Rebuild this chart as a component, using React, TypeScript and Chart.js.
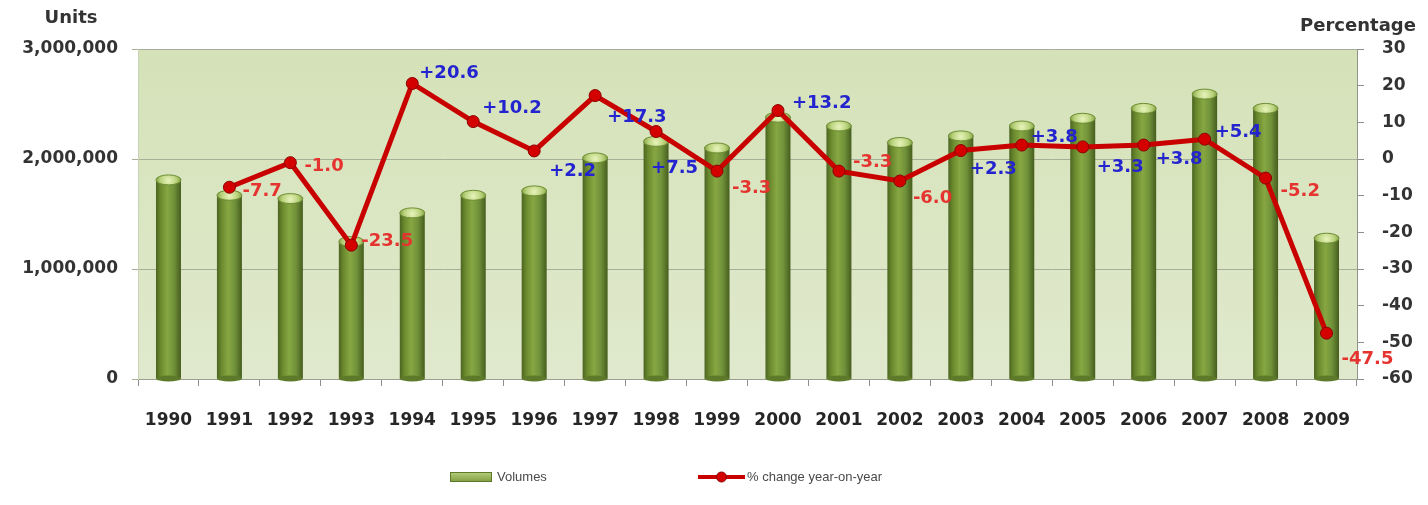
import React, { useEffect, useRef } from 'react';
import { Chart, registerables } from 'chart.js';

Chart.register(...registerables);

// ---------- data ----------
const YEARS = ['1990', '1991', '1992', '1993', '1994', '1995', '1996', '1997', '1998', '1999',
  '2000', '2001', '2002', '2003', '2004', '2005', '2006', '2007', '2008', '2009'];
const VOLUMES = [1810000, 1670000, 1640000, 1250000, 1510000, 1670000, 1710000, 2010000, 2160000, 2100000,
  2380000, 2300000, 2150000, 2210000, 2300000, 2370000, 2460000, 2590000, 2460000, 1280000];
const PCT_CHANGE: (number | null)[] = [null, -7.7, -1.0, -23.5, 20.6, 10.2, 2.2, 17.3, 7.5, -3.3,
  13.2, -3.3, -6.0, 2.3, 3.8, 3.3, 3.8, 5.4, -5.2, -47.5];
const UNITS_MIN = 0;
const UNITS_MAX = 3000000;
const UNITS_STEP = 1000000;
const PCT_MIN = -60;
const PCT_MAX = 30;
const PCT_STEP = 10;
const LEGEND_VOLUMES = 'Volumes';
const LEGEND_PCT = '% change year-on-year';
const TITLE_LEFT = 'Units';
const TITLE_RIGHT = 'Percentage';

// label placement (layout only): offset of label's left/middle from its point
const LABEL_DX = [0, 13, 14, 10, 7, 9, 15, 12, -5, 15, 14, 14, 13, 9, 9, 14, 12, 10, 15, 15];
const LABEL_DY = [0, 4, 4, -4, -10, -13, 20, 22, 37, 17, -7, -9, 17, 19, -8, 20, 14, -7, 13, 26];

const TICK_FONT = { family: '"DejaVu Sans", sans-serif', size: 17, weight: 'bold' as const };

function fmtLabel(v: number) {
  const s = v.toFixed(1);
  return v > 0 ? '+' + s : s;
}

const decorPlugin = {
  id: 'decor',
  beforeDraw(chart: any) {
    const { ctx, chartArea: a } = chart;
    ctx.save();
    ctx.fillStyle = '#ffffff';
    ctx.fillRect(0, 0, chart.width, chart.height);
    const g = ctx.createLinearGradient(0, a.top, 0, a.bottom);
    g.addColorStop(0, '#d5e2b8');
    g.addColorStop(1, '#e0e9cd');
    ctx.fillStyle = g;
    ctx.fillRect(a.left, a.top, a.right - a.left, a.bottom - a.top);
    ctx.restore();
  },
  afterDatasetDraw(chart: any, args: any) {
    if (args.meta.type !== 'bar') return;
    const { ctx } = chart;
    ctx.save();
    args.meta.data.forEach((bar: any) => {
      const w = bar.width / 2;
      if (!isFinite(bar.x) || !isFinite(bar.y) || !isFinite(w)) return;
      ctx.beginPath();
      ctx.ellipse(bar.x, bar.base, w, 3, 0, 0, Math.PI * 2);
      ctx.fillStyle = '#5d7a2a';
      ctx.fill();
      const cg = ctx.createRadialGradient(bar.x, bar.y + 1, 1, bar.x, bar.y, w);
      cg.addColorStop(0, '#e2f0b4');
      cg.addColorStop(0.6, '#b9d27c');
      cg.addColorStop(1, '#86a446');
      ctx.beginPath();
      ctx.ellipse(bar.x, bar.y, w, 5, 0, 0, Math.PI * 2);
      ctx.fillStyle = cg;
      ctx.fill();
      ctx.lineWidth = 1;
      ctx.strokeStyle = '#6f8d35';
      ctx.stroke();
    });
    ctx.restore();
  },
  afterDatasetsDraw(chart: any) {
    const { ctx } = chart;
    const meta = chart.getDatasetMeta(1);
    ctx.save();
    ctx.font = 'bold 18px "DejaVu Sans", sans-serif';
    ctx.textAlign = 'left';
    ctx.textBaseline = 'middle';
    meta.data.forEach((pt: any, i: number) => {
      const v = PCT_CHANGE[i];
      if (v === null || v === undefined) return;
      ctx.fillStyle = v > 0 ? '#2323cf' : '#e5342f';
      ctx.fillText(fmtLabel(v), pt.x + LABEL_DX[i], pt.y + LABEL_DY[i]);
    });
    ctx.restore();
  },
  afterDraw(chart: any) {
    const { ctx } = chart;
    ctx.save();
    ctx.fillStyle = '#333333';
    ctx.font = 'bold 18px "DejaVu Sans", sans-serif';
    ctx.textAlign = 'center';
    ctx.textBaseline = 'middle';
    ctx.fillText(TITLE_LEFT, 71, 18);
    ctx.fillText(TITLE_RIGHT, 1358, 26);

    const ly = 477;
    const bg = ctx.createLinearGradient(0, ly - 5, 0, ly + 5);
    bg.addColorStop(0, '#b7cf7c');
    bg.addColorStop(1, '#7f9c3f');
    ctx.fillStyle = bg;
    ctx.fillRect(450, ly - 5, 42, 10);
    ctx.strokeStyle = '#5d7a2a';
    ctx.lineWidth = 1;
    ctx.strokeRect(450.5, ly - 4.5, 41, 9);
    ctx.fillStyle = '#4a4a4a';
    ctx.font = '13px "Liberation Sans", sans-serif';
    ctx.textAlign = 'left';
    ctx.fillText(LEGEND_VOLUMES, 497, ly);

    ctx.strokeStyle = '#c80000';
    ctx.lineWidth = 4;
    ctx.beginPath();
    ctx.moveTo(698, ly);
    ctx.lineTo(745, ly);
    ctx.stroke();
    ctx.beginPath();
    ctx.arc(721.5, ly, 5, 0, Math.PI * 2);
    ctx.fillStyle = '#d40000';
    ctx.fill();
    ctx.lineWidth = 1;
    ctx.strokeStyle = '#8a0000';
    ctx.stroke();
    ctx.fillStyle = '#4a4a4a';
    ctx.fillText(LEGEND_PCT, 747, ly);
    ctx.restore();
  },
};

export default function App() {
  const ref = useRef<HTMLCanvasElement>(null);

  useEffect(() => {
    document.body.style.margin = '0';
    const canvas = ref.current!;
    const chart = new Chart(canvas, {
      type: 'bar',
      data: {
        labels: YEARS,
        datasets: [
          {
            type: 'bar',
            label: LEGEND_VOLUMES,
            data: VOLUMES,
            yAxisID: 'y',
            order: 1,
            barPercentage: 0.41,
            categoryPercentage: 1,
            borderWidth: 0,
            backgroundColor: (c: any) => {
              const ch = c.chart;
              const xs = ch.scales && ch.scales.x;
              if (!xs || c.dataIndex === undefined) return '#6f8f34';
              const x = xs.getPixelForValue(c.dataIndex);
              if (!isFinite(x)) return '#6f8f34';
              const half = 12.5;
              const g = ch.ctx.createLinearGradient(x - half, 0, x + half, 0);
              g.addColorStop(0, '#4b6421');
              g.addColorStop(0.18, '#6a892d');
              g.addColorStop(0.45, '#87a743');
              g.addColorStop(0.72, '#71913a');
              g.addColorStop(1, '#455d1e');
              return g;
            },
          },
          {
            type: 'line',
            label: LEGEND_PCT,
            data: PCT_CHANGE,
            yAxisID: 'y1',
            order: 0,
            borderColor: '#c80000',
            borderWidth: 5,
            pointRadius: 6,
            pointBackgroundColor: '#d40000',
            pointBorderColor: '#8a0000',
            pointBorderWidth: 1,
            tension: 0,
            spanGaps: false,
          } as any,
        ],
      },
      options: {
        responsive: false,
        animation: false,
        devicePixelRatio: 1,
        layout: { padding: { top: 49, left: 0, right: 0, bottom: 0 } },
        plugins: {
          legend: { display: false },
          tooltip: { enabled: false },
          title: { display: false },
        },
        scales: {
          x: {
            type: 'category',
            offset: true,
            afterFit: (s: any) => { s.height = 126; },
            grid: {
              offset: true,
              drawOnChartArea: false,
              drawTicks: true,
              tickLength: 7,
              color: '#8f8f8f',
            },
            border: { display: true, color: '#9a9f90', width: 1 },
            ticks: { font: TICK_FONT, color: '#262626', padding: 24, maxRotation: 0, autoSkip: false },
          },
          y: {
            type: 'linear',
            position: 'left',
            min: UNITS_MIN,
            max: UNITS_MAX,
            afterFit: (s: any) => { s.width = 138; },
            grid: { color: '#a7ae9a', lineWidth: 1, tickLength: 6, drawTicks: true },
            border: { display: true, color: '#c8d2b6' },
            ticks: {
              stepSize: UNITS_STEP,
              font: TICK_FONT,
              color: '#333333',
              padding: 14,
              callback: (v: any) => Number(v).toLocaleString('en-US'),
            },
          },
          y1: {
            type: 'linear',
            position: 'right',
            min: PCT_MIN,
            max: PCT_MAX,
            afterFit: (s: any) => { s.width = 71; },
            grid: { drawOnChartArea: false, color: '#8f8f8f', tickLength: 7 },
            border: { display: true, color: '#8f948a' },
            ticks: { stepSize: PCT_STEP, font: TICK_FONT, color: '#333333', padding: 18 },
          },
        },
      },
      plugins: [decorPlugin],
    });
    return () => chart.destroy();
  }, []);

  return (
    <div style={{ width: 1428, height: 505 }}>
      <canvas ref={ref} width={1428} height={505} style={{ display: 'block' }} />
    </div>
  );
}
